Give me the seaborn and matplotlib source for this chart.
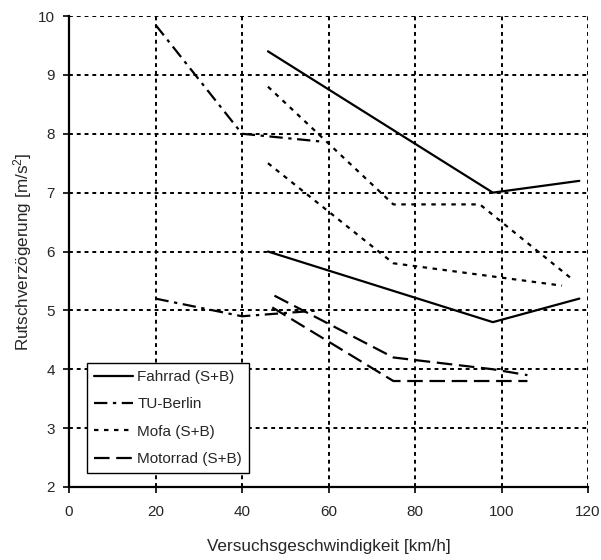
import numpy as np
import pandas as pd
import seaborn as sns
import matplotlib
matplotlib.use('Agg')
import matplotlib.pyplot as plt

sns.set_style("white")
plt.rcParams['font.family'] = ['Liberation Sans', 'DejaVu Sans']
plt.rcParams['mathtext.default'] = 'regular'

# ------------ DATA ------------ #
series_order = ['Fahrrad (S+B)', 'TU-Berlin', 'Mofa (S+B)', 'Motorrad (S+B)']

fahrrad_hi_x = [46, 98, 118]
fahrrad_hi_y = [9.4, 7.0, 7.2]
fahrrad_lo_x = [46, 98, 118]
fahrrad_lo_y = [6.0, 4.8, 5.2]

tub_hi_x = [20, 40, 58]
tub_hi_y = [9.85, 8.0, 7.87]
tub_lo_x = [20, 40, 58]
tub_lo_y = [5.2, 4.9, 5.0]

mofa_hi_x = [46, 75, 95, 116]
mofa_hi_y = [8.8, 6.8, 6.8, 5.55]
mofa_lo_x = [46, 75, 114]
mofa_lo_y = [7.5, 5.8, 5.42]

motor_hi_x = [47.5, 75, 98, 106]
motor_hi_y = [5.25, 4.2, 4.0, 3.9]
motor_lo_x = [47, 75, 106]
motor_lo_y = [5.05, 3.8, 3.8]

x_ticks = [0, 20, 40, 60, 80, 100, 120]
y_ticks = [2, 3, 4, 5, 6, 7, 8, 9, 10]

# ------------ BUILD LONG TABLE ------------ #
curves = [
    ('Fahrrad (S+B)', 'hi', fahrrad_hi_x, fahrrad_hi_y),
    ('Fahrrad (S+B)', 'lo', fahrrad_lo_x, fahrrad_lo_y),
    ('TU-Berlin', 'hi', tub_hi_x, tub_hi_y),
    ('TU-Berlin', 'lo', tub_lo_x, tub_lo_y),
    ('Mofa (S+B)', 'hi', mofa_hi_x, mofa_hi_y),
    ('Mofa (S+B)', 'lo', mofa_lo_x, mofa_lo_y),
    ('Motorrad (S+B)', 'hi', motor_hi_x, motor_hi_y),
    ('Motorrad (S+B)', 'lo', motor_lo_x, motor_lo_y),
]
frames = []
for name, unit, xs, ys in curves:
    frames.append(pd.DataFrame({'v': xs, 'a': ys, 'serie': name, 'kurve': unit}))
data = pd.concat(frames, ignore_index=True)

dash_map = {
    'Fahrrad (S+B)': '',
    'TU-Berlin': (6, 2.5, 1.5, 2.5),
    'Mofa (S+B)': (2, 2.5),
    'Motorrad (S+B)': (7, 3),
}

# ------------ PLOT ------------ #
fig = plt.figure(figsize=(6.01, 5.60), dpi=100)
ax = fig.add_axes([69/601, 1-487/560, (588-69)/601, (487-16)/560])

sns.lineplot(data=data, x='v', y='a', style='serie', style_order=series_order,
             units='kurve', estimator=None, sort=False, dashes=dash_map,
             color='black', linewidth=1.6, ax=ax)

ax.set_xlim(0, 120)
ax.set_ylim(2, 10)
ax.set_xticks(x_ticks)
ax.set_yticks(y_ticks)
ax.grid(True, color='black', linestyle=(0, (2, 2)), linewidth=1.4)
ax.set_axisbelow(True)

for s in ['top', 'right']:
    ax.spines[s].set_visible(False)
for s in ['left', 'bottom']:
    ax.spines[s].set_color('black')
    ax.spines[s].set_linewidth(1.6)

ax.tick_params(axis='both', direction='out', length=4, width=1.2, color='black',
               labelsize=11, bottom=True, left=True)
ax.tick_params(axis='x', pad=9)
ax.tick_params(axis='y', pad=6)

ax.set_xlabel('Versuchsgeschwindigkeit [km/h]', fontsize=12.3, labelpad=14.5)
ax.set_ylabel('Rutschverzögerung [m/s$^{2}$]', fontsize=12.3, labelpad=3)

handles, labels = ax.get_legend_handles_labels()
leg = ax.legend(handles, labels, loc='lower left', bbox_to_anchor=(4.1/120, 0.03),
                frameon=True, fancybox=False, shadow=False, fontsize=11,
                handlelength=2.6, handletextpad=0.26, borderpad=0.45,
                labelspacing=0.87, borderaxespad=0)
leg.get_frame().set_edgecolor('black')
leg.get_frame().set_linewidth(1.0)
leg.get_frame().set_alpha(1)

fig.savefig('out.png', dpi=100)
